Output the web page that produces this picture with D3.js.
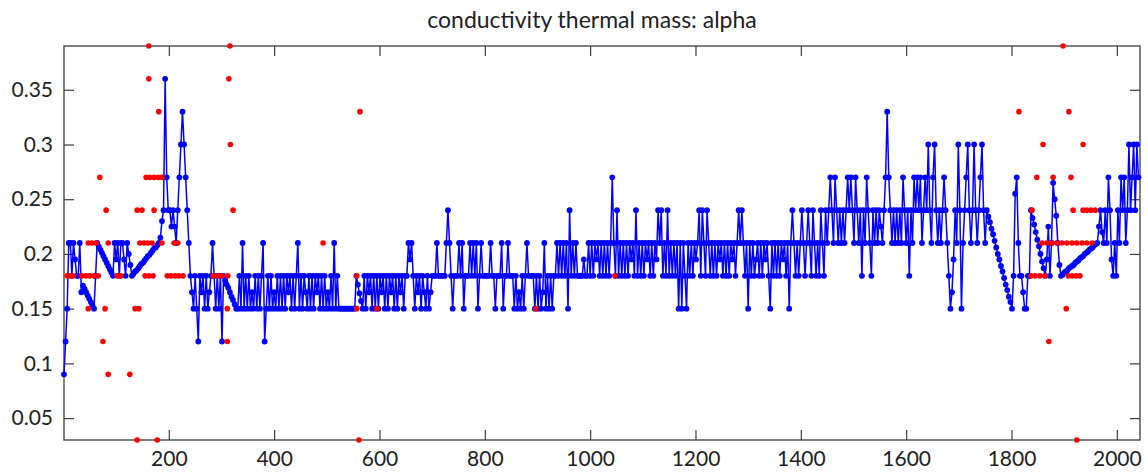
<!DOCTYPE html>
<html>
<head>
<meta charset="utf-8">
<script src="https://cdn.jsdelivr.net/npm/d3@7"></script>
<style>
  body { margin: 0; background: #fff; }
  text { font-family: Lato, "Open Sans", sans-serif; fill: #222; }
</style>
</head>
<body>
<svg id="chart"></svg>
<script>
// alpha per sample (thousandths), samples 1, 4, 7, ... (every 3rd sample)
const sampleStart = 1;
const sampleStep = 3;
const alphaA = [90,120,150,210,210,180,210,195,180,180,
  210,165,171,168,165,162,159,156,153,150,
  180,210,207,204,201,198,195,192,189,186,
  183,180,210,195,210,180,210,210,195,180,
  210,200,190,180,182,184,185,187,189,191,
  192,194,196,198,199,201,203,205,206,208,210];
const alphaB = [215,230,240,360,270,240,240,225,240,225,
  210,240,270,300,330,300,270,240,210,180,
  165,150,180,150,120,180,165,180,150,180,
  150,165,180,210,180,150,180,150,180,120,
  180,176,172,169,165,161,158,154,150];
const alphaC = [150,180,150,210,150,180,150,180,150,165,
  150,180,150,180,150,180,210,120,150,180,
  150,180,150,165,150,180,150,180,150,180,
  150,180,165,180,150,180,150,180,210,150,
  180,150,180,165,150,180,150,180,150,180,
  165,180,150,180,150,180,150,165,150,180,
  150,210,150,180,150,150,150,150,150,150,
  150,150,150,150,150,180,172,164,157,150];
const alphaD = [180,150,180,165,180,150,180,150,180,150,
  180,165,180,150,180,150,180,165,180,150,
  180,150,180,165,180,150,180,180,210,195,
  210,180,150,180,165,180,150,180,165,150,
  180,150,165,180,180,180,210,180,180,180,
  180,180,210,240,210,180,150,180,180,180,
  210,180,210,150,180,180,180,210,180,210,
  180,210,150,180,210,180,180,180,180,180];
const alphaE = [210,180,180,150,180,180,180,210,150,180,
  180,210,180,180,180,150,180,150,165,150,
  180,150,180,210,180,180,180,180,150,180,
  150,180,150,165,210,150,180,150,180,150,
  180,180,210,180,210,180,210,180,210,150,
  240,180,210,180,210,180,180,180,180,195,
  180,180,210];
const alphaF = [180,210,180,210,195,210,180,210,180,210,
  180,210,180,210,270,210,180,240,180,210,
  180,210,180,210,180,210,195,210,180,240,
  180,210,180,210,180,210,195,210,180,210,
  180,210,195,240,210,240,180,210,180,240,
  180,210,180,210,180,210,150,210,150,210,
  180,150,210,180,210,180,210,195,210,240,
  180,240,210,180,240,210,180];
const alphaG = [210,180,210,180,210,195,210,180,210,180,
  210,180,210,195,210,180,210,240,210,240,
  210,180,210,150,210,180,210,180,195,210,
  180,210,180,210,195,210,180,150,210,180,
  210,180,210,180,210,195,210,180,210,150,
  210,240,210,180,210,180,210,240,210,180,
  210,240,210,180,240,210,180,210,180,240,
  210,180];
const alphaH = [240,210,240,270,240,210,270,240,210,240,
  210,240,210,240,270,240,270,240,210,270,
  240,210,240,180,240,210,270,240,210,180,
  240,210,240,210,240,225,210,240,270,330,
  270,240,210,240,210,240,210,240,210,270,
  240,210,240,180,240,210,270,240,270,240,
  270,210,240,270];
const alphaI = [240,300,240,210,270,300,240,210,240,210,
  240,270,240,210,180,150,165,195,240,210,
  300,240,150,210,240,270,300,240,210,240,
  300,240,210,240,270,300,240,210,240,
  234,229,223,218,212,206,200,195,189,184,178,172,167,161,156,150];
const alphaJ = [180,255,270,210,180,180,165,150,150,180,180,240,
  233,227,220,213,207,200,193,187,180,
  195,225,180,210,265,250,235,210,190,
  180,181,183,184,185,187,188,189,190,192,193,194,196,197,198,200,201,202,204,205,206,208,209,210,
  225,240,220,210,
  240,210,270,240,195,180,210,180,240,210,270,240,270,210,240,300,240,270,300,240,300,270];

// rejected points (red)
const outlierSample = [7,13,18,35,43,50,58,66,102,109,155,162,170,197,204,212,219,227,284,293,301,312,
  47,54,62,85,145,153,160,168,187,210,217,
  47,79,136,143,311,
  75,311,85,126,140,178,
  69,157,164,172,180,187,
  81,140,149,172,322,
  181,162,314,162,316,317,
  563,493,557,557,595,897,561,1047,
  1898,1814,1909,1860,1936,1848,1879,1913,1839,1917,1936,1943,1951,1959,
  1858,1867,1877,1886,1896,1905,1915,1924,1934,1943,1953,
  1837,1845,1854,1864,1908,1915,1923,1930,
  1904,1871,1924];
const outlierValue = [0.18,0.18,0.18,0.18,0.18,0.18,0.18,0.18,0.18,0.18,0.18,0.18,0.18,0.18,0.18,0.18,0.18,0.18,0.18,0.18,0.18,0.18,
  0.21,0.21,0.21,0.21,0.21,0.21,0.21,0.21,0.21,0.21,0.21,
  0.15,0.15,0.15,0.15,0.15,
  0.12,0.12,0.09,0.09,0.03,0.03,
  0.27,0.27,0.27,0.27,0.27,0.27,
  0.24,0.24,0.24,0.24,0.24,
  0.33,0.36,0.36,0.39,0.39,0.30,
  0.33,0.21,0.18,0.15,0.15,0.15,0.03,0.18,
  0.39,0.33,0.33,0.30,0.30,0.27,0.27,0.27,0.24,0.24,0.24,0.24,0.24,0.24,
  0.21,0.21,0.21,0.21,0.21,0.21,0.21,0.21,0.21,0.21,0.21,
  0.18,0.18,0.18,0.18,0.18,0.18,0.18,0.18,
  0.15,0.12,0.03];

const xTicks = [200,400,600,800,1000,1200,1400,1600,1800,2000];
const yTicks = [0.05,0.1,0.15,0.2,0.25,0.3,0.35];
const titleText = "conductivity thermal mass: alpha";

const size = { width: 1148, height: 475 };
const padding = { top: 46, bottom: 35, left: 64, right: 8 };

const svg = d3.select("#chart").attr("width", size.width).attr("height", size.height);

const alpha = [].concat(alphaA, alphaB, alphaC, alphaD, alphaE, alphaF, alphaG, alphaH, alphaI, alphaJ)
  .map((v, i) => ({ s: sampleStart + i * sampleStep, v: v / 1000 }));
const outliers = outlierSample.map((s, i) => ({ s: s, v: outlierValue[i] }));

const xScale = d3.scaleLinear().domain([1, 2044]).range([padding.left, size.width - padding.right]);
const yScale = d3.scaleLinear().domain([0.03, 0.39]).range([size.height - padding.bottom, padding.top]);

const axisColor = "#3c3c3c";
const fmt = d => String(d);

const xAxis = d3.axisBottom(xScale).tickValues(xTicks).tickFormat(fmt).tickSizeInner(-10).tickSizeOuter(0).tickPadding(11);
const xAxisTop = d3.axisTop(xScale).tickValues(xTicks).tickFormat("").tickSizeInner(-10).tickSizeOuter(0);
const yAxis = d3.axisLeft(yScale).tickValues(yTicks).tickFormat(fmt).tickSizeInner(-10).tickSizeOuter(0).tickPadding(11);
const yAxisRight = d3.axisRight(yScale).tickValues(yTicks).tickFormat("").tickSizeInner(-10).tickSizeOuter(0);

function styleAxis(g) {
  g.select(".domain").remove();
  g.selectAll(".tick line").attr("stroke", axisColor).attr("stroke-width", 1.2);
  g.selectAll(".tick text").style("font-size", "21px").style("font-family", "Lato, 'Open Sans', sans-serif").attr("fill", "#222");
}

svg.append("g").attr("transform", `translate(0, ${size.height - padding.bottom})`).call(xAxis).call(styleAxis);
svg.append("g").attr("transform", `translate(0, ${padding.top})`).call(xAxisTop).call(styleAxis);
svg.append("g").attr("transform", `translate(${padding.left}, 0)`).call(yAxis).call(styleAxis);
svg.append("g").attr("transform", `translate(${size.width - padding.right}, 0)`).call(yAxisRight).call(styleAxis);

svg.append("rect")
  .attr("x", padding.left).attr("y", padding.top)
  .attr("width", size.width - padding.left - padding.right)
  .attr("height", size.height - padding.top - padding.bottom)
  .attr("fill", "none").attr("stroke", axisColor).attr("stroke-width", 1.3);

// blue series: line + markers
const line = d3.line().x(d => xScale(d.s)).y(d => yScale(d.v));
svg.append("path").datum(alpha)
  .attr("d", line).attr("fill", "none").attr("stroke", "#0000ff").attr("stroke-width", 1.5);
svg.append("g").selectAll("circle").data(alpha).enter().append("circle")
  .attr("cx", d => xScale(d.s)).attr("cy", d => yScale(d.v)).attr("r", 2.9).attr("fill", "#0000ff");

// red outliers
svg.append("g").selectAll("circle").data(outliers).enter().append("circle")
  .attr("cx", d => xScale(d.s)).attr("cy", d => yScale(d.v)).attr("r", 2.8).attr("fill", "#ff0000");

svg.append("text").attr("x", 592).attr("y", 28).attr("text-anchor", "middle")
  .style("font-size", "23px").text(titleText);
</script>
</body>
</html>
